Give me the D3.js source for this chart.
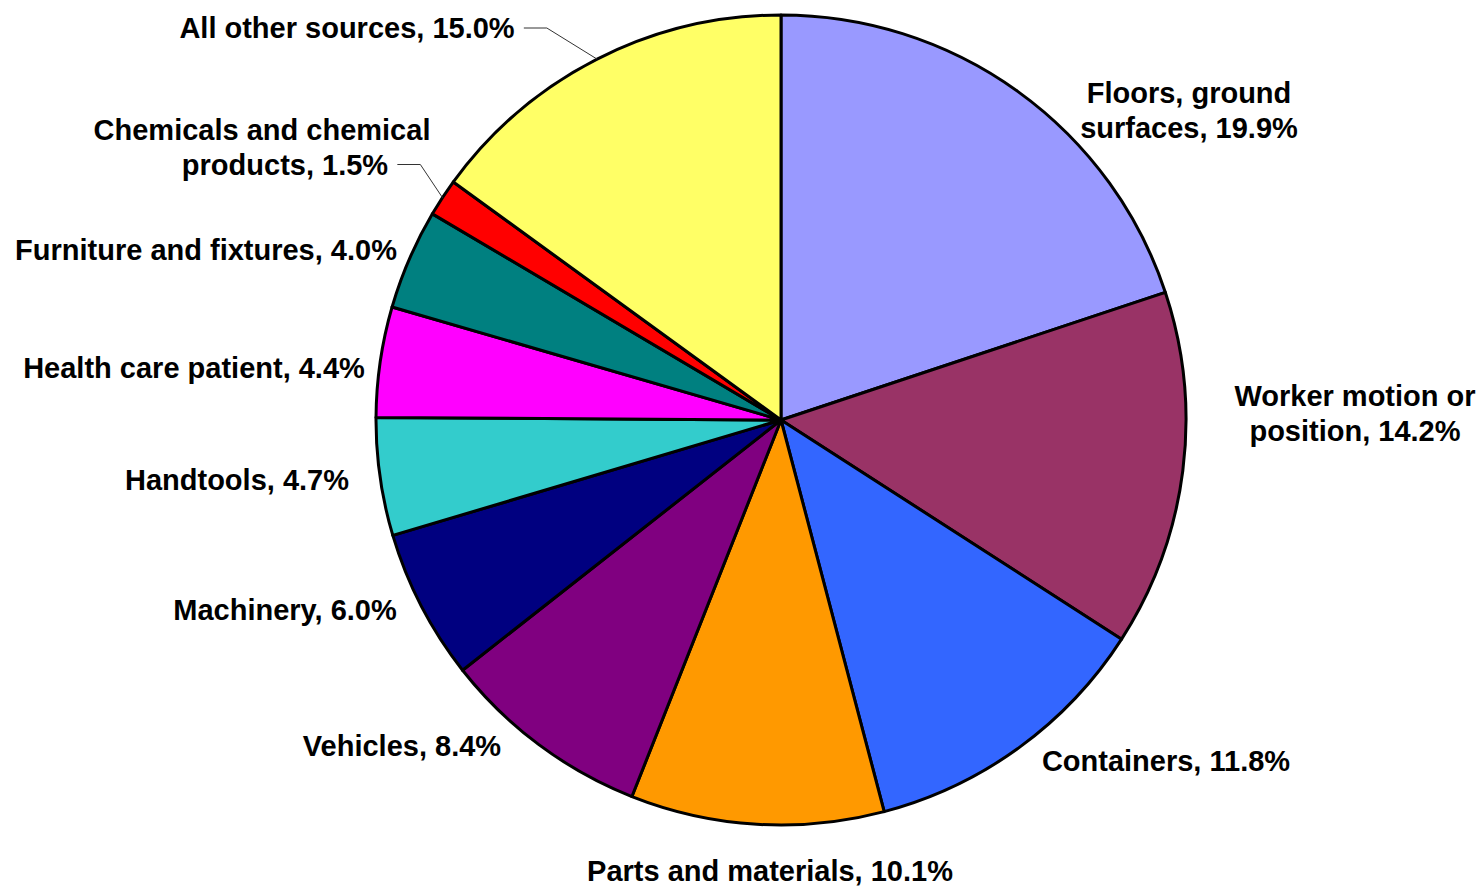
<!DOCTYPE html>
<html>
<head>
<meta charset="utf-8">
<script src="https://cdn.jsdelivr.net/npm/d3@7"></script>
<style>
  html, body { margin: 0; padding: 0; background: #fff; }
  svg text { font-family: "Liberation Sans", Arial, sans-serif; font-weight: bold; font-size: 29px; fill: #000; }
</style>
</head>
<body>
<div id="chart"></div>
<script>
// 데이터
const categories = ["Floors, ground surfaces", "Worker motion or position", "Containers",
  "Parts and materials", "Vehicles", "Machinery", "Handtools", "Health care patient",
  "Furniture and fixtures", "Chemicals and chemical products", "All other sources"];
const shares = [19.9, 14.2, 11.8, 10.1, 8.4, 6.0, 4.7, 4.4, 4.0, 1.5, 15.0];
const colors = ["#9999FF", "#993366", "#3366FF", "#FF9900", "#800080", "#000080",
  "#33CCCC", "#FF00FF", "#008080", "#FF0000", "#FFFF66"];

// 라벨 줄바꿈 위치 (첫 줄 텍스트)
const firstLine = {0: "Floors, ground", 1: "Worker motion or", 9: "Chemicals and chemical"};

// 라벨 위치 (파이 중심 기준 오프셋), 줄별 dx, 리더선 여부
const labelLayout = [
  {dx: 408, dy: -310},
  {dx: 574, dy: -7},
  {dx: 385, dy: 341},
  {dx: -11, dy: 451},
  {dx: -379, dy: 326},
  {dx: -496, dy: 190},
  {dx: -544, dy: 60},
  {dx: -587, dy: -52},
  {dx: -575, dy: -170},
  {dx: -519, dy: -273, lineDx: [0, 23], leader: true},
  {dx: -434, dy: -392, leader: true}
];

const width = 1482, height = 888;
const cx = 781, cy = 420, radius = 405;
const lineH = 35;

const data = categories.map((c, i) => ({name: c, value: shares[i], color: colors[i], i}));

const svg = d3.select("#chart").append("svg")
  .attr("width", width)
  .attr("height", height);

const g = svg.append("g").attr("transform", `translate(${cx},${cy})`);

const pie = d3.pie().value(d => d.value).sort(null);
const arc = d3.arc().innerRadius(0).outerRadius(radius);
const edgeArc = d3.arc().innerRadius(radius).outerRadius(radius);

const arcs = pie(data);

g.selectAll("path.slice")
  .data(arcs)
  .enter().append("path")
  .attr("class", "slice")
  .attr("d", arc)
  .attr("fill", d => d.data.color)
  .attr("stroke", "#000")
  .attr("stroke-width", 3)
  .attr("stroke-linejoin", "round");

// 라벨
arcs.forEach(d => {
  const lay = labelLayout[d.data.i];
  const full = `${d.data.name}, ${d.data.value.toFixed(1)}%`;
  const head = firstLine[d.data.i];
  const lines = head ? [head, full.slice(head.length + 1)] : [full];
  const top = lay.dy - (lines.length - 1) * lineH / 2;

  const t = g.append("text")
    .attr("text-anchor", "middle");
  lines.forEach((ln, k) => {
    t.append("tspan")
      .attr("x", lay.dx + (lay.lineDx ? lay.lineDx[k] : 0))
      .attr("y", top + k * lineH + 10)
      .text(ln);
  });

  if (lay.leader) {
    const last = t.selectAll("tspan").nodes().pop();
    const bb = last.getBBox();
    const x0 = bb.x + bb.width + 9;
    const y0 = top + (lines.length - 1) * lineH;
    const end = edgeArc.centroid(d);
    g.append("path")
      .attr("d", `M${x0},${y0}H${x0 + 23}L${end[0]},${end[1]}`)
      .attr("fill", "none")
      .attr("stroke", "#333")
      .attr("stroke-width", 1);
  }
});
</script>
</body>
</html>
